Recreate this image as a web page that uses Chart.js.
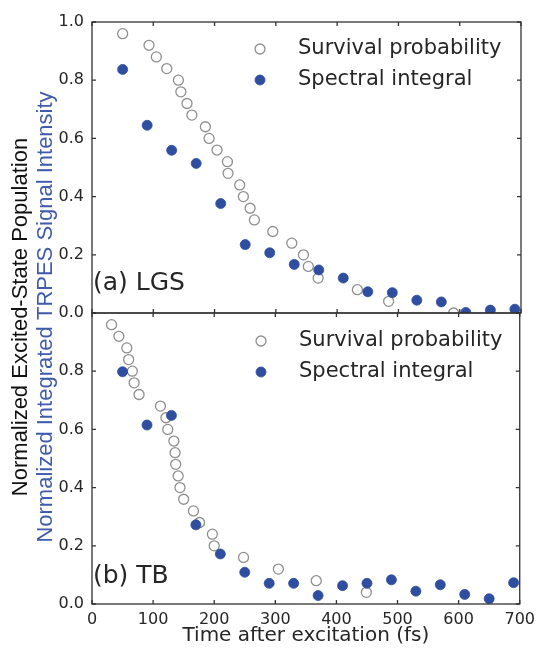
<!DOCTYPE html>
<html>
<head>
<meta charset="utf-8">
<script src="https://cdn.jsdelivr.net/npm/chart.js@4.4.1/dist/chart.umd.min.js"></script>
<style>
  html, body { margin: 0; padding: 0; background: #fff; }
  #wrap { position: relative; width: 541px; height: 648px; }
  #wrap canvas { position: absolute; left: 0; top: 0; }
</style>
</head>
<body>
<div id="wrap">
  <canvas id="topChart" width="541" height="648"></canvas>
  <canvas id="botChart" width="541" height="648"></canvas>
</div>
<script>
// ========= data =========

// (a) LGS
const lgsSurvivalX = [50, 93, 105, 122, 141, 145, 155, 163, 185, 191, 204, 221, 222, 241, 247, 258, 265, 295, 326, 345, 353, 369, 433, 484, 590];
const lgsSurvivalY = [0.96, 0.92, 0.88, 0.84, 0.80, 0.76, 0.72, 0.68, 0.64, 0.60, 0.56, 0.52, 0.48, 0.44, 0.40, 0.36, 0.32, 0.28, 0.24, 0.20, 0.16, 0.12, 0.08, 0.04, 0.00];
const lgsSpectralX = [50, 90, 130, 170, 210, 250, 290, 330, 370, 410, 450, 490, 530, 570, 610, 650, 690];
const lgsSpectralY = [0.837, 0.645, 0.559, 0.514, 0.376, 0.235, 0.207, 0.167, 0.148, 0.120, 0.073, 0.070, 0.044, 0.038, 0.002, 0.010, 0.013];

// (b) TB
const tbSurvivalX = [32, 44, 57, 60, 66, 69, 77, 112, 121, 124, 134, 136, 137, 141, 144, 150, 166, 176, 197, 200, 248, 305, 367, 449];
const tbSurvivalY = [0.96, 0.92, 0.88, 0.84, 0.80, 0.76, 0.72, 0.68, 0.64, 0.60, 0.56, 0.52, 0.48, 0.44, 0.40, 0.36, 0.32, 0.28, 0.24, 0.20, 0.16, 0.12, 0.08, 0.04];
const tbSpectralX = [50, 90, 130, 170, 210, 250, 290, 330, 370, 410, 450, 490, 530, 570, 610, 650, 690];
const tbSpectralY = [0.798, 0.615, 0.648, 0.272, 0.172, 0.109, 0.071, 0.071, 0.029, 0.063, 0.071, 0.083, 0.044, 0.066, 0.033, 0.018, 0.073];

const seriesLabels = ["Survival probability", "Spectral integral"];
const panelLabels = ["(a) LGS", "(b) TB"];
const xTitle = "Time after excitation (fs)";
const yTitleBlack = "Normalized Excited-State Population";
const yTitleBlue = "Normalized Integrated TRPES Signal Intensity";

const BLUE = "#2f4e9f";
const GREY = "#8f8f8f";
const TEXT = "#262626";

Chart.defaults.font.family = "'DejaVu Sans', sans-serif";
Chart.defaults.color = TEXT;

function pts(xs, ys) {
  return xs.map((x, i) => ({ x: x, y: ys[i] }));
}

// frame with inward ticks, legend and panel label (matplotlib classic look)
const framePlugin = {
  id: "frame",
  afterDatasetsDraw(chart, args, opts) {
    const { ctx, chartArea: a, scales } = chart;
    ctx.save();
    ctx.strokeStyle = "#333";
    ctx.lineWidth = 1.3;
    ctx.strokeRect(a.left, a.top, a.right - a.left, a.bottom - a.top);

    ctx.beginPath();
    scales.x.ticks.forEach(t => {
      const px = scales.x.getPixelForValue(t.value);
      ctx.moveTo(px, a.bottom); ctx.lineTo(px, a.bottom - 4);
      ctx.moveTo(px, a.top); ctx.lineTo(px, a.top + 4);
    });
    scales.y.ticks.forEach(t => {
      const py = scales.y.getPixelForValue(t.value);
      ctx.moveTo(a.left, py); ctx.lineTo(a.left + 4, py);
      ctx.moveTo(a.right, py); ctx.lineTo(a.right - 4, py);
    });
    ctx.stroke();

    // legend
    ctx.font = "21px 'DejaVu Sans'";
    ctx.textBaseline = "middle";
    ctx.textAlign = "left";
    chart.data.datasets.forEach((ds, i) => {
      const y = opts.legendY + i * 31;
      ctx.beginPath();
      ctx.arc(opts.legendX, y, 5, 0, Math.PI * 2);
      ctx.fillStyle = ds.backgroundColor;
      ctx.fill();
      ctx.lineWidth = ds.borderWidth;
      ctx.strokeStyle = ds.borderColor;
      ctx.stroke();
      ctx.fillStyle = TEXT;
      ctx.fillText(ds.label, opts.legendX + 38, y);
    });

    // panel label
    ctx.font = "25px 'DejaVu Sans'";
    ctx.fillStyle = TEXT;
    ctx.fillText(opts.panel, a.left + 1, opts.panelY);
    ctx.restore();
  }
};

// shared y titles (span both panels)
const yTitlePlugin = {
  id: "ytitles",
  afterDraw(chart) {
    const ctx = chart.ctx;
    ctx.save();
    ctx.font = "22px 'Liberation Sans', Arial, sans-serif";
    ctx.textAlign = "center";
    ctx.textBaseline = "middle";
    ctx.translate(21, 317);
    ctx.rotate(-Math.PI / 2);
    ctx.fillStyle = "#111";
    ctx.fillText(yTitleBlack, 0, 0);
    ctx.fillStyle = "#3f5bab";
    ctx.fillText(yTitleBlue, 0, 25);
    ctx.restore();
  }
};

function makeDatasets(sx, sy, px, py) {
  return [
    {
      label: seriesLabels[0],
      data: pts(sx, sy),
      backgroundColor: "#ffffff",
      borderColor: GREY,
      borderWidth: 1.3,
      pointRadius: 5,
      order: 1,
      clip: 0
    },
    {
      label: seriesLabels[1],
      data: pts(px, py),
      backgroundColor: BLUE,
      borderColor: BLUE,
      borderWidth: 0.8,
      pointRadius: 5,
      order: 0,
      clip: 0
    }
  ];
}

function yScale(hideTop) {
  return {
    min: 0,
    max: 1,
    afterFit: s => { s.width = 92; },
    grid: { display: false, drawTicks: false },
    border: { display: false },
    ticks: {
      stepSize: 0.2,
      padding: 8,
      font: { size: 16 },
      color: TEXT,
      callback: v => (hideTop && Math.abs(v - 1) < 1e-6) ? "" : v.toFixed(1)
    }
  };
}

// ========= (a) LGS =========
new Chart(document.getElementById("topChart"), {
  type: "scatter",
  data: { datasets: makeDatasets(lgsSurvivalX, lgsSurvivalY, lgsSpectralX, lgsSpectralY) },
  options: {
    responsive: false,
    animation: false,
    layout: { padding: { left: 0, top: 22, right: 20, bottom: 335 } },
    plugins: {
      legend: { display: false },
      tooltip: { enabled: false },
      frame: { legendX: 260, legendY: 49, panel: panelLabels[0], panelY: 283 }
    },
    scales: {
      x: {
        min: 0,
        max: 700,
        afterFit: s => { s.height = 0; },
        grid: { display: false, drawTicks: false },
        border: { display: false },
        ticks: { stepSize: 100, display: false }
      },
      y: yScale(false)
    }
  },
  plugins: [framePlugin]
});

// ========= (b) TB =========
new Chart(document.getElementById("botChart"), {
  type: "scatter",
  data: { datasets: makeDatasets(tbSurvivalX, tbSurvivalY, tbSpectralX, tbSpectralY) },
  options: {
    responsive: false,
    animation: false,
    layout: { padding: { left: 0, top: 313, right: 20, bottom: 0 } },
    plugins: {
      legend: { display: false },
      tooltip: { enabled: false },
      frame: { legendX: 261, legendY: 341, panel: panelLabels[1], panelY: 576 }
    },
    scales: {
      x: {
        min: 0,
        max: 700,
        afterFit: s => { s.height = 44; },
        grid: { display: false, drawTicks: false },
        border: { display: false },
        ticks: { stepSize: 100, padding: 6, font: { size: 16 }, color: TEXT, maxRotation: 0 },
        title: {
          display: true,
          text: xTitle,
          color: TEXT,
          font: { size: 20 },
          padding: { top: 0, bottom: 0 }
        }
      },
      y: yScale(true)
    }
  },
  plugins: [framePlugin, yTitlePlugin]
});
</script>
</body>
</html>
